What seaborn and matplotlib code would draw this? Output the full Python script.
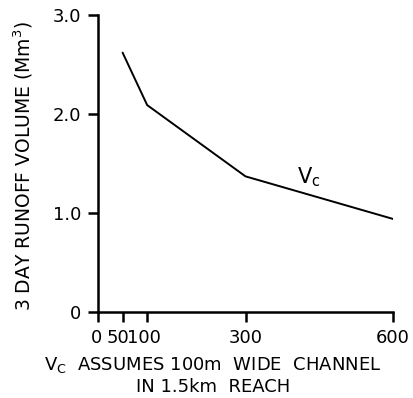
import matplotlib
matplotlib.use("Agg")
import matplotlib.pyplot as plt
import matplotlib.transforms as mtransforms
import seaborn as sns
import pandas as pd

# Channel volume (m) vs. 3-day runoff volume (Mm^3)
channel_volume = [50, 100, 300, 600]
runoff_volume = [2.62, 2.09, 1.37, 0.94]
x_ticks = [0, 50, 100, 300, 600]
x_tick_labels = ["0", "50", "100", "300", "600"]
y_ticks = [0, 1.0, 2.0, 3.0]
y_tick_labels = ["0", "1.0", "2.0", "3.0"]

sns.set_style("ticks")
plt.rcParams["font.family"] = ["DejaVu Sans"]

df = pd.DataFrame({"vc": channel_volume, "runoff": runoff_volume})

fig = plt.figure(figsize=(4.13, 3.98), dpi=100)
ax = fig.add_axes([0.2373, 0.2161, 0.9516 - 0.2373, 0.9623 - 0.2161])

sns.lineplot(data=df, x="vc", y="runoff", ax=ax, color="black", linewidth=1.4)

ax.set_xlim(0, 600)
ax.set_ylim(0, 3.0)
ax.set_xticks(x_ticks)
ax.set_xticklabels(x_tick_labels)
ax.set_yticks(y_ticks)
ax.set_yticklabels(y_tick_labels)

sns.despine(ax=ax)
for side in ("left", "bottom"):
    ax.spines[side].set_linewidth(1.8)
    ax.spines[side].set_color("black")

ax.tick_params(axis="both", direction="out", length=7, width=1.8,
               color="black", labelsize=13, labelcolor="black", pad=5)

# nudge the crowded low-end labels so they don't collide
shifts_px = {"0": -2, "50": -5, "100": -3}
for lbl in ax.get_xticklabels():
    dx = shifts_px.get(lbl.get_text(), 0)
    if dx:
        off = mtransforms.ScaledTranslation(dx / 100, 0, fig.dpi_scale_trans)
        lbl.set_transform(lbl.get_transform() + off)

ax.set_xlabel("$\\mathregular{V_C}$  ASSUMES 100m  WIDE  CHANNEL\nIN 1.5km  REACH",
              fontsize=13, color="black", linespacing=1.2)
ax.xaxis.set_label_coords(0.39, -0.145, transform=ax.transAxes)
ax.xaxis.label.set_va("top")
ax.set_ylabel("3 DAY RUNOFF VOLUME (Mm$^3$)", fontsize=13.5, color="black")
ax.yaxis.set_label_coords(-0.215, 0.49, transform=ax.transAxes)

ax.text(405, 1.36, "$\\mathregular{V_c}$", fontsize=15, ha="left", va="center", color="black")

fig.savefig("out.png", dpi=100)
